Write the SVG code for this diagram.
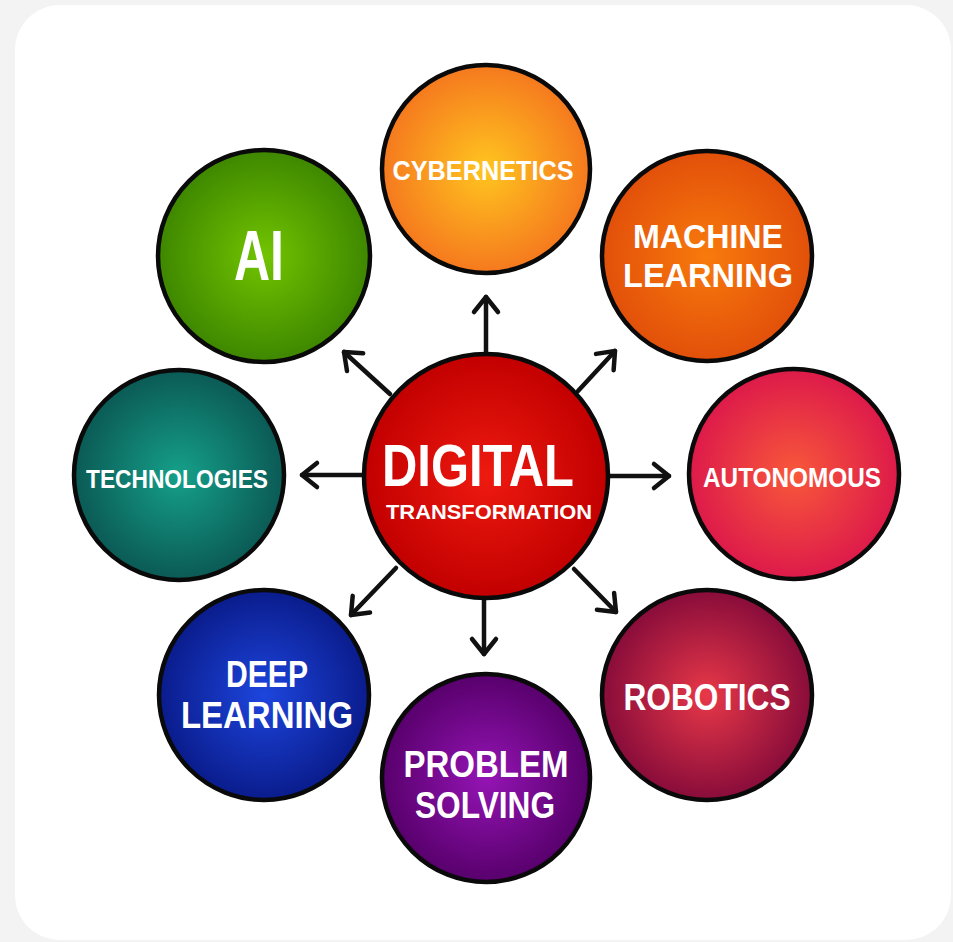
<svg xmlns="http://www.w3.org/2000/svg" width="953" height="942" viewBox="0 0 953 942">
  <style>
    .node circle { stroke: #0a0a0a; stroke-width: 4.5; }
    .lbl { font-family: "Liberation Sans", Arial, sans-serif; font-weight: 700; fill: #ffffff; text-anchor: middle; }
    .conn line { stroke: #111111; stroke-width: 4.5; stroke-linecap: round; marker-end: url(#arr); }
  </style>
  <defs>
    <marker id="arr" markerUnits="userSpaceOnUse" markerWidth="40" markerHeight="40" viewBox="-20 -20 40 40" refX="0" refY="0" orient="auto">
      <path d="M-15,-12 L0,0 L-15,12" fill="none" stroke="#111111" stroke-width="4.5" stroke-linecap="round" stroke-linejoin="round"/>
    </marker>
    <radialGradient id="gCyb" cx="50%" cy="50%" r="50%"><stop offset="0" stop-color="#ffc51f"/><stop offset="1" stop-color="#f5791e"/></radialGradient>
    <radialGradient id="gML" cx="50%" cy="50%" r="50%"><stop offset="0" stop-color="#f87a0c"/><stop offset="1" stop-color="#e2500a"/></radialGradient>
    <radialGradient id="gAI" cx="50%" cy="50%" r="50%"><stop offset="0" stop-color="#72c400"/><stop offset="1" stop-color="#3e8700"/></radialGradient>
    <radialGradient id="gTech" cx="50%" cy="50%" r="50%"><stop offset="0" stop-color="#15a08a"/><stop offset="1" stop-color="#0b5a55"/></radialGradient>
    <radialGradient id="gAuto" cx="50%" cy="50%" r="50%"><stop offset="0" stop-color="#f8583a"/><stop offset="1" stop-color="#dd1a4a"/></radialGradient>
    <radialGradient id="gDeep" cx="50%" cy="50%" r="50%"><stop offset="0" stop-color="#1d45dd"/><stop offset="1" stop-color="#0a1c8c"/></radialGradient>
    <radialGradient id="gRob" cx="50%" cy="50%" r="50%"><stop offset="0" stop-color="#e83848"/><stop offset="1" stop-color="#880c3a"/></radialGradient>
    <radialGradient id="gProb" cx="50%" cy="50%" r="50%"><stop offset="0" stop-color="#9414b4"/><stop offset="1" stop-color="#58006c"/></radialGradient>
    <radialGradient id="gCenter" cx="50%" cy="50%" r="50%"><stop offset="0" stop-color="#ee1a10"/><stop offset="1" stop-color="#c20000"/></radialGradient>
  </defs>

  <rect x="0" y="0" width="953" height="942" fill="#f3f3f3"/>
  <rect x="15" y="5" width="936" height="935" rx="45" ry="45" fill="#ffffff"/>

  <g id="connectors" class="conn">
    <line x1="486" y1="354" x2="486" y2="297"/>
    <line x1="578" y1="391" x2="615" y2="351"/>
    <line x1="610" y1="476" x2="669" y2="476"/>
    <line x1="574" y1="569" x2="616" y2="612"/>
    <line x1="484" y1="596" x2="484" y2="654"/>
    <line x1="396" y1="568" x2="351" y2="615"/>
    <line x1="362" y1="475" x2="302" y2="475"/>
    <line x1="390" y1="394" x2="344" y2="352"/>
  </g>

  <g id="node-cybernetics" class="node">
    <circle cx="486" cy="169" r="104" fill="url(#gCyb)"/>
    <text class="lbl" x="483" y="180" font-size="28" textLength="181" lengthAdjust="spacingAndGlyphs">CYBERNETICS</text>
  </g>
  <g id="node-machine-learning" class="node">
    <circle cx="707" cy="256" r="105" fill="url(#gML)"/>
    <text class="lbl" x="708" y="248" font-size="34" textLength="150" lengthAdjust="spacingAndGlyphs">MACHINE</text>
    <text class="lbl" x="708" y="287" font-size="34" textLength="170" lengthAdjust="spacingAndGlyphs">LEARNING</text>
  </g>
  <g id="node-ai" class="node">
    <circle cx="264" cy="256" r="106" fill="url(#gAI)"/>
    <text class="lbl" x="259" y="280" font-size="70" textLength="50" lengthAdjust="spacingAndGlyphs">AI</text>
  </g>
  <g id="node-technologies" class="node">
    <circle cx="179" cy="475" r="105" fill="url(#gTech)"/>
    <text class="lbl" x="177" y="488" font-size="26" textLength="182" lengthAdjust="spacingAndGlyphs">TECHNOLOGIES</text>
  </g>
  <g id="node-autonomous" class="node">
    <circle cx="794" cy="474" r="105" fill="url(#gAuto)"/>
    <text class="lbl" x="792" y="487" font-size="28" textLength="178" lengthAdjust="spacingAndGlyphs">AUTONOMOUS</text>
  </g>
  <g id="node-deep-learning" class="node">
    <circle cx="264" cy="695" r="105" fill="url(#gDeep)"/>
    <text class="lbl" x="267" y="687" font-size="36" textLength="82" lengthAdjust="spacingAndGlyphs">DEEP</text>
    <text class="lbl" x="267" y="728" font-size="36" textLength="172" lengthAdjust="spacingAndGlyphs">LEARNING</text>
  </g>
  <g id="node-robotics" class="node">
    <circle cx="707" cy="695" r="105" fill="url(#gRob)"/>
    <text class="lbl" x="707" y="710" font-size="37" textLength="167" lengthAdjust="spacingAndGlyphs">ROBOTICS</text>
  </g>
  <g id="node-problem-solving" class="node">
    <circle cx="486" cy="778" r="104" fill="url(#gProb)"/>
    <text class="lbl" x="486" y="777" font-size="36" textLength="165" lengthAdjust="spacingAndGlyphs">PROBLEM</text>
    <text class="lbl" x="485" y="818" font-size="36" textLength="140" lengthAdjust="spacingAndGlyphs">SOLVING</text>
  </g>
  <g id="node-digital-transformation" class="node">
    <circle cx="486" cy="476" r="122" fill="url(#gCenter)"/>
    <text class="lbl" x="478" y="486" font-size="60" textLength="192" lengthAdjust="spacingAndGlyphs">DIGITAL</text>
    <text class="lbl" x="489" y="519" font-size="21" textLength="206" lengthAdjust="spacingAndGlyphs">TRANSFORMATION</text>
  </g>
</svg>
